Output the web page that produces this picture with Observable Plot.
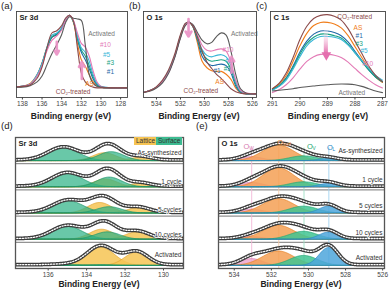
<!DOCTYPE html>
<html><head><meta charset="utf-8">
<script src="https://cdn.jsdelivr.net/npm/d3@7"></script>
<script src="https://cdn.jsdelivr.net/npm/@observablehq/plot@0.6"></script>
<style>
body{margin:0;width:390px;height:290px;position:relative;background:#fff;font-family:"Liberation Sans",Arial,sans-serif;overflow:hidden}
.p{position:absolute}
.let{position:absolute;font-size:9.5px;color:#222}
.ttl{position:absolute;font-size:8.5px;font-weight:bold;color:#222;white-space:nowrap;transform:translateX(-50%)}
.leg{position:absolute;font-size:6.5px;color:#333;height:8px;line-height:8px;padding:0 2px}
</style></head><body>
<div id="a" class="p" style="left:0;top:0"></div>
<div id="b" class="p" style="left:128px;top:0"></div>
<div id="c" class="p" style="left:255px;top:0"></div>
<div id="d" class="p" style="left:0;top:128px"></div>
<div id="e" class="p" style="left:195px;top:128px"></div>
<div class="let" style="left:1px;top:0px">(a)</div>
<div class="let" style="left:129px;top:0px">(b)</div>
<div class="let" style="left:256px;top:0px">(c)</div>
<div class="let" style="left:1px;top:120px">(d)</div>
<div class="let" style="left:196px;top:120px">(e)</div>
<div class="ttl" style="left:71px;top:111px">Binding energy (eV)</div>
<div class="ttl" style="left:199px;top:111px">Binding Energy (eV)</div>
<div class="ttl" style="left:328px;top:111px">Binding energy (eV)</div>
<div class="ttl" style="left:99px;top:279px">Binding Energy (eV)</div>
<div class="ttl" style="left:301px;top:279px">Binding Energy (eV)</div>
<div class="leg" style="left:134px;top:137px;background:#f6c453">Lattice</div>
<div class="leg" style="left:156px;top:137px;background:#3dbb91">Surface</div>
<script>
// ---------------- DATA ----------------
const seriesNames = ["AS","#1","#3","#5","#10","Activated","CO₂-treated"];
// (a) Sr 3d
const aTicks = [138,136,134,132,130,128];
const aX   = [139.0,138.0,137.2,136.5,136.0,135.5,135.0,134.5,134.0,133.6,133.2,132.8,132.4,132.0,131.6,131.2,130.8,130.4,130.0,129.0,127.3];
const aAS  = [0.03,0.04,0.08,0.20,0.36,0.56,0.70,0.74,0.82,0.94,1.00,0.90,0.62,0.40,0.31,0.20,0.10,0.05,0.03,0.02,0.02];
const a1   = [0.03,0.04,0.07,0.19,0.35,0.55,0.70,0.74,0.82,0.94,1.00,0.91,0.68,0.50,0.40,0.28,0.14,0.06,0.03,0.02,0.02];
const a3   = [0.03,0.04,0.07,0.19,0.34,0.55,0.71,0.75,0.82,0.94,1.00,0.91,0.70,0.53,0.45,0.32,0.17,0.07,0.03,0.02,0.02];
const a5   = [0.03,0.04,0.07,0.20,0.35,0.57,0.73,0.76,0.83,0.95,1.00,0.92,0.72,0.56,0.50,0.38,0.20,0.08,0.04,0.02,0.02];
const a10  = [0.03,0.04,0.07,0.18,0.32,0.52,0.66,0.72,0.80,0.93,1.00,0.93,0.76,0.62,0.57,0.45,0.25,0.10,0.04,0.02,0.02];
const aAct = [0.03,0.03,0.05,0.10,0.18,0.33,0.48,0.60,0.74,0.90,0.98,0.96,0.95,0.93,0.60,0.20,0.08,0.04,0.03,0.02,0.02];
const aCO2 = [0.03,0.04,0.06,0.15,0.30,0.56,0.76,0.79,0.86,0.96,1.00,0.92,0.56,0.22,0.10,0.05,0.03,0.02,0.02,0.02,0.02];
const aLabX = [131.6,129.4,129.4,129.8,130.1,131.3,134.6];
const aLabY = [0.08,0.23,0.35,0.46,0.60,0.75,-0.04];
const aArrX = [134.5,131.95]; const aArrY1 = [0.64,0.14]; const aArrY2 = [0.47,0.37];
// (b) O 1s
const bTicks = [534,532,530,528,526];
const bX   = [535.1,534.5,534.0,533.5,533.0,532.5,532.0,531.6,531.3,531.0,530.6,530.2,529.8,529.4,529.0,528.6,528.2,527.8,527.4,527.0,526.5,525.7];
const bAS  = [0.03,0.06,0.10,0.18,0.31,0.52,0.80,0.97,1.00,0.95,0.72,0.46,0.37,0.33,0.32,0.32,0.28,0.21,0.09,0.03,0.01,0.01];
const b1   = [0.03,0.06,0.10,0.18,0.31,0.52,0.80,0.97,1.00,0.95,0.76,0.53,0.44,0.40,0.41,0.42,0.40,0.30,0.12,0.03,0.01,0.01];
const b3   = [0.03,0.06,0.10,0.18,0.31,0.52,0.80,0.97,1.00,0.95,0.78,0.58,0.49,0.46,0.47,0.48,0.46,0.35,0.15,0.04,0.01,0.01];
const b5   = [0.03,0.06,0.10,0.18,0.31,0.52,0.80,0.97,1.00,0.96,0.80,0.62,0.54,0.52,0.54,0.55,0.52,0.40,0.18,0.05,0.01,0.01];
const b10  = [0.03,0.06,0.10,0.18,0.30,0.51,0.79,0.96,0.99,0.96,0.83,0.68,0.61,0.60,0.62,0.63,0.60,0.45,0.20,0.06,0.02,0.01];
const bAct = [0.03,0.05,0.09,0.16,0.29,0.50,0.78,0.95,0.99,0.97,0.86,0.75,0.70,0.72,0.80,0.85,0.82,0.60,0.28,0.08,0.02,0.01];
const bCO2 = [0.03,0.06,0.11,0.20,0.34,0.55,0.83,0.98,1.00,0.95,0.80,0.60,0.45,0.36,0.28,0.22,0.15,0.08,0.04,0.02,0.01,0.01];
const bLabX = [529.1,529.25,528.4,528.25,528.5,527.8,531.75];
const bLabY = [0.18,0.33,0.36,0.46,0.62,0.84,0.05];
const bArrX = [531.33,527.75]; const bArrY1 = [1.04,0.30]; const bArrY2 = [0.80,0.52];
// (c) C 1s
const cTicks = [291,290,289,288,287];
const cX   = [291.0,290.75,290.5,290.25,290.0,289.75,289.5,289.25,289.0,288.75,288.5,288.25,288.0,287.75,287.5,287.25,287.0];
const cAS  = [0.05,0.11,0.22,0.40,0.60,0.76,0.86,0.90,0.90,0.88,0.83,0.73,0.59,0.45,0.31,0.20,0.13];
const c1   = [0.04,0.09,0.19,0.34,0.52,0.66,0.75,0.79,0.79,0.77,0.73,0.65,0.53,0.41,0.29,0.20,0.14];
const c3   = [0.04,0.09,0.18,0.32,0.49,0.63,0.71,0.75,0.75,0.73,0.70,0.62,0.51,0.40,0.29,0.20,0.14];
const c5   = [0.03,0.08,0.16,0.30,0.46,0.60,0.68,0.72,0.72,0.71,0.68,0.61,0.51,0.41,0.31,0.22,0.16];
const c10  = [0.00,0.04,0.10,0.19,0.30,0.40,0.46,0.49,0.49,0.48,0.45,0.39,0.31,0.23,0.16,0.10,0.06];
const cAct = [0.02,0.03,0.04,0.05,0.065,0.075,0.085,0.095,0.10,0.107,0.11,0.108,0.10,0.08,0.05,0.02,0.00];
const cCO2 = [0.05,0.12,0.25,0.45,0.68,0.85,0.95,0.99,1.00,0.98,0.93,0.82,0.66,0.50,0.34,0.22,0.14];
const cLabX = [288.05,287.98,287.98,287.8,287.73,288.6,288.64];
const cLabY = [0.835,0.73,0.63,0.54,0.37,-0.01,0.975];
const cArrX = [289.04]; const cArrY1 = [0.82]; const cArrY2 = [0.50];
// (d) Sr 3d deconvolution
const dTicks = [136,134,132,130];
const dRows = ["As-synthesized","1 cycle","5 cycles","10 cycles","Activated"];
const dRowLabelY = [0.43,0.30,0.25,0.30,0.50];
const dSurfHiPos = [135.2,135.0,134.95,135.0,135.0];
const dSurfHiAmp = [0.50,0.52,0.47,0.50,0.03];
const dSurfHiSig = [0.80,0.80,0.80,0.80,0.80];
const dSurfLoPos = [132.7,132.8,132.8,132.9,133.2];
const dSurfLoAmp = [0.34,0.37,0.24,0.28,0.03];
const dSurfLoSig = [0.65,0.65,0.65,0.65,0.65];
const dLatHiPos  = [133.05,133.0,133.3,133.2,133.25];
const dLatHiAmp  = [0.30,0.30,0.40,0.38,0.70];
const dLatHiSig  = [0.60,0.60,0.62,0.62,0.72];
const dLatLoPos  = [131.15,131.2,131.3,131.35,131.4];
const dLatLoAmp  = [0.13,0.13,0.20,0.28,0.50];
const dLatLoSig  = [0.55,0.55,0.58,0.60,0.60];
// (e) O 1s deconvolution
const eTicks = [534,532,530,528,526];
const eRows = ["As-synthesized","1 cycle","5 cycles","10 cycles","Activated"];
const eRowLabelY = [0.47,0.38,0.38,0.35,0.42];
const eCompNames = ["W","surf","V","L"];
const eCenter = [533.06,531.6,530.24,528.9];
const eSigma  = [0.60,0.85,0.75,0.50];
const eOwAmp    = [0.15,0.17,0.15,0.10,0.26];
const eOsurfAmp = [0.59,0.72,0.55,0.53,0.55];
const eOvAmp    = [0.18,0.19,0.26,0.30,0.38];
const eOLAmp    = [0.08,0.13,0.26,0.27,0.68];
const eLabX = [533.5,531.68,530.08,529.0];
const eLabY = [4.66,4.82,4.66,4.62];

// ---------------- STYLE ----------------
const col = {"AS":"#f07d1a","#1":"#1f68a6","#3":"#17a283","#5":"#3ab7d8","#10":"#e37ab6","Activated":"#5a5a5a","CO₂-treated":"#8c4b4b"};
const labCol = {...col, "Activated":"#777"};
const font = "Liberation Sans, Arial, sans-serif";
const baseStyle = {fontFamily: font, fontSize: "6.5px", color: "#444", background: "transparent", overflow: "visible"};

function spectra(el, o) {
  const marks = [];
  o.series.forEach((ys, k) => {
    const name = seriesNames[k];
    marks.push(Plot.line(o.xs.map((x, i) => ({x, y: ys[i]})), {x: "x", y: "y", stroke: col[name], strokeWidth: 1.1, curve: "catmull-rom", clip: true}));
  });
  marks.push(Plot.text(seriesNames.map((n, k) => ({x: o.labX[k], y: o.labY[k], t: n, c: labCol[n]})), {x: "x", y: "y", text: "t", fill: "c", textAnchor: "start", fontSize: 6.5}));
  if (o.arrows) marks.push(Plot.arrow(o.arrX.map((x, i) => ({x, y1: o.arrY1[i], y2: o.arrY2[i]})), {x1: "x", x2: "x", y1: "y1", y2: "y2", stroke: "#ea8fc4", strokeWidth: 2.6, headLength: 5, strokeOpacity: 0.9}));
  marks.push(Plot.text([o.title], {frameAnchor: "top-left", dx: 3, dy: 3, text: d => d, fontWeight: "bold", fontSize: 7.5, fill: "#222"}));
  marks.push(Plot.axisX({ticks: o.ticks, tickSize: 2.5, tickPadding: 1.5, fontSize: 6.5, label: null, tickFormat: d => String(d)}));
  marks.push(Plot.frame({stroke: "#444", strokeWidth: 0.9}));
  if (o.extra) marks.push(...o.extra);
  const svg = Plot.plot({
    width: o.width, height: 112, marginLeft: o.ml, marginRight: o.mr, marginTop: 11, marginBottom: 15,
    x: {domain: o.xDomain}, y: {domain: o.yDomain, axis: null}, color: {type: "identity"},
    style: baseStyle, marks
  });
  el.appendChild(svg);
  return svg;
}

spectra(document.getElementById("a"), {
  xs: aX, series: [aAS, a1, a3, a5, a10, aAct, aCO2], labX: aLabX, labY: aLabY,
  arrows: true, arrX: aArrX, arrY1: aArrY1, arrY2: aArrY2, title: "Sr 3d",
  ticks: aTicks, width: 130, ml: 16, mr: 3, xDomain: [138.6, 127.3], yDomain: [-0.11, 1.05]
});
spectra(document.getElementById("b"), {
  xs: bX, series: [bAS, b1, b3, b5, b10, bAct, bCO2], labX: bLabX, labY: bLabY,
  arrows: true, arrX: bArrX, arrY1: bArrY1, arrY2: bArrY2, title: "O 1s",
  ticks: bTicks, width: 130, ml: 15, mr: 2, xDomain: [535.08, 525.67], yDomain: [-0.04, 1.145]
});
const cSvg = spectra(document.getElementById("c"), {
  xs: cX, series: [cAS, c1, c3, c5, c10, cAct, cCO2], labX: cLabX, labY: cLabY,
  arrows: false, title: "C 1s",
  ticks: cTicks, width: 135, ml: 15, mr: 5, xDomain: [291.07, 286.89], yDomain: [-0.063, 1.04],
  extra: [
    Plot.rect(cArrX.map((x, i) => ({x1: x + 0.075, x2: x - 0.075, y1: cArrY2[i], y2: cArrY1[i]})), {x1: "x1", x2: "x2", y1: "y1", y2: "y2", fill: "#e46fae", className: "cgrad"}),
    Plot.dot(cArrX.map((x, i) => ({x, y: cArrY2[i] - 0.02})), {x: "x", y: "y", symbol: "triangle", rotate: 180, r: 3.6, fill: "#e46fae"})
  ]
});
// gradient for the C 1s arrow shaft
(function(){
  const ns = "http://www.w3.org/2000/svg";
  const defs = document.createElementNS(ns, "defs");
  defs.innerHTML = '<linearGradient id="cg" x1="0" y1="0" x2="0" y2="1"><stop offset="0" stop-color="#ffffff" stop-opacity="0.2"/><stop offset="1" stop-color="#e46fae"/></linearGradient>';
  cSvg.insertBefore(defs, cSvg.firstChild);
  cSvg.querySelectorAll(".cgrad rect").forEach(r => r.setAttribute("fill", "url(#cg)"));
})();

// ---------- deconvolution panels ----------
function gauss(x, c, a, s) { return a * Math.exp(-((x - c) ** 2) / (2 * s * s)); }
const BASE = 0.1, ENV_OFF = 0.045;

function decon(el, o) {
  const grid = d3.range(o.lo, o.hi + 1e-9, 0.04);
  const marks = [];
  marks.push(Plot.ruleY([1, 2, 3, 4], {stroke: "#555", strokeWidth: 0.8}));
  if (o.vlines) marks.push(...o.vlines);
  o.groups.forEach(g => {
    const data = [];
    g.comps.forEach((cp, j) => {
      grid.forEach(x => data.push({id: j, x, b: cp.base, y: cp.base + gauss(x, cp.pos, cp.amp, cp.sig)}));
    });
    marks.push(Plot.areaY(data, {x: "x", y1: "b", y2: "y", z: "id", fill: g.fill, fillOpacity: g.op, stroke: g.stroke, strokeWidth: 0.7, clip: true}));
  });
  // envelope = sum of components
  const env = [];
  o.rows.forEach((name, r) => {
    const base = (4 - r) + BASE;
    grid.forEach(x => {
      let s = 0;
      o.groups.forEach(g => g.comps.filter(cp => cp.row === r).forEach(cp => { s += gauss(x, cp.pos, cp.amp, cp.sig); }));
      env.push({r, x, y: base + ENV_OFF + s});
    });
  });
  marks.push(Plot.line(env, {x: "x", y: "y", z: "r", stroke: "#3b3b3b", strokeWidth: 3.8, clip: true}));
  marks.push(Plot.line(env, {x: "x", y: "y", z: "r", stroke: "#fff", strokeWidth: 1.3, strokeDasharray: "1.2,1.6", clip: true}));
  marks.push(Plot.text(o.rows.map((n, r) => ({t: n, y: (4 - r) + o.labY[r]})), {y: "y", text: "t", frameAnchor: "right", dx: -2, textAnchor: "end", fontSize: 6.5, fill: "#333", stroke: "#fff", strokeWidth: 1.5}));
  marks.push(Plot.text([o.title], {frameAnchor: "top-left", dx: 3, dy: 3, text: d => d, fontWeight: "bold", fontSize: 7.5, fill: "#222"}));
  if (o.extra) marks.push(...o.extra);
  marks.push(Plot.axisX({ticks: o.ticks, tickSize: 2.5, tickPadding: 1.5, fontSize: 6.5, label: null, tickFormat: d => String(d)}));
  marks.push(Plot.frame({stroke: "#555", strokeWidth: 1.3}));
  el.appendChild(Plot.plot({
    width: 195, height: 156, marginLeft: o.ml, marginRight: o.mr, marginTop: 9, marginBottom: 16,
    x: {domain: o.xDomain}, y: {domain: [0, 5], axis: null}, color: {type: "identity"},
    style: baseStyle, marks
  }));
}

const dLat = [], dSurf = [];
dRows.forEach((n, r) => {
  const base = (4 - r) + BASE;
  dLat.push({row: r, base, pos: dLatHiPos[r], amp: dLatHiAmp[r], sig: dLatHiSig[r]});
  dLat.push({row: r, base, pos: dLatLoPos[r], amp: dLatLoAmp[r], sig: dLatLoSig[r]});
  dSurf.push({row: r, base, pos: dSurfHiPos[r], amp: dSurfHiAmp[r], sig: dSurfHiSig[r]});
  dSurf.push({row: r, base, pos: dSurfLoPos[r], amp: dSurfLoAmp[r], sig: dSurfLoSig[r]});
});
decon(document.getElementById("d"), {
  lo: 128.9, hi: 137.8, rows: dRows, labY: dRowLabelY, title: "Sr 3d", ticks: dTicks,
  ml: 15, mr: 12, xDomain: [137.7, 128.96],
  groups: [
    {comps: dLat, fill: "#f6c453", stroke: "#e0a22e", op: 0.85},
    {comps: dSurf, fill: "#2fb386", stroke: "#1a9368", op: 0.72}
  ]
});

const eAmps = [eOwAmp, eOsurfAmp, eOvAmp, eOLAmp];
const eFill = ["#eda6cf", "#f4a055", "#40c492", "#4da6dc"];
const eStroke = ["#d77cb1", "#e47f22", "#1ea572", "#2a86c4"];
const eLine = ["#f3b9d8", "#f2c9a6", "#9fe0c5", "#a3d2ef"];
const eGroups = eCompNames.map((nm, k) => ({
  comps: eRows.map((n, r) => ({row: r, base: (4 - r) + BASE, pos: eCenter[k], amp: eAmps[k][r], sig: eSigma[k]})),
  fill: eFill[k], stroke: eStroke[k], op: 0.85
}));
decon(document.getElementById("e"), {
  lo: 525.8, hi: 534.9, rows: eRows, labY: eRowLabelY, title: "O 1s", ticks: eTicks,
  ml: 23, mr: 6, xDomain: [534.85, 525.9], groups: eGroups,
  vlines: [Plot.ruleX(eCenter.map((c, k) => ({c, s: eLine[k]})), {x: "c", y1: 0, y2: 4.6, stroke: "s", strokeWidth: 0.9})],
  extra: [
    Plot.text(eCompNames.map((nm, k) => ({x: eLabX[k], y: eLabY[k], c: eStroke[k]})), {x: "x", y: "y", text: () => "O", fill: "c", textAnchor: "start", fontSize: 7.5}),
    Plot.text(eCompNames.map((nm, k) => ({x: eLabX[k], y: eLabY[k], t: nm, c: eStroke[k]})), {x: "x", y: "y", text: "t", fill: "c", textAnchor: "start", fontSize: 4.8, dx: 5.6, dy: 2.4})
  ]
});
</script>
</body></html>
